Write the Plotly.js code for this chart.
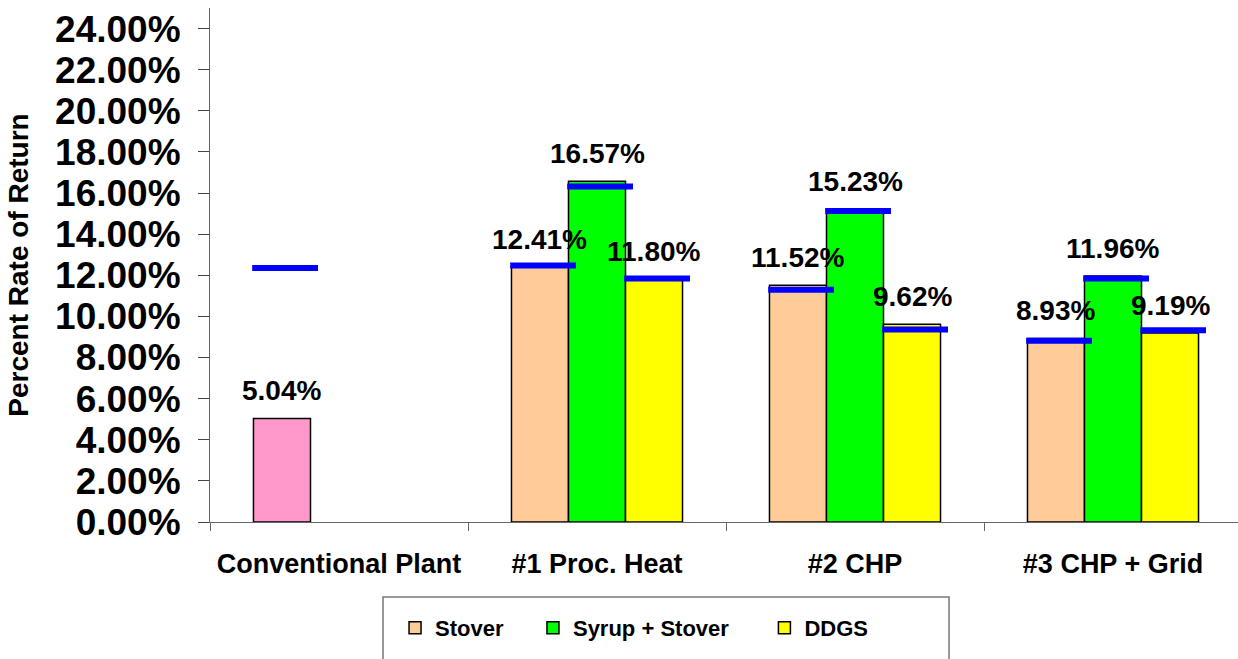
<!DOCTYPE html>
<html>
<head>
<meta charset="utf-8">
<script src="https://cdn.plot.ly/plotly-3.0.1.min.js"></script>
<style>html,body{margin:0;padding:0;background:#fff;}#chart{width:1238px;height:659px;}</style>
</head>
<body>
<div id="chart"></div>
<script>
// ---- data ----
const categories = ['Conventional Plant', '#1 Proc. Heat', '#2 CHP', '#3 CHP + Grid'];
const conventional = [5.04, null, null, null];
const stover = [null, 12.41, 11.52, 8.93];
const syrupStover = [null, 16.57, 15.23, 11.96];
const ddgs = [null, 11.80, 9.62, 9.19];
// blue horizontal markers
const blueStover = [12.35, 12.47, 11.30, 8.81];
const blueSyrup = [null, 16.32, 15.13, 11.84];
const blueDDGS = [null, 11.84, 9.36, 9.33];
const seriesNames = ['Stover', 'Syrup + Stover', 'DDGS'];

// ---- styling ----
const FONT = 'Liberation Sans, Arial, sans-serif';
const idx = categories.map((c, i) => i);
const W = 0.221;               // bar width in category units
const slotOffset = [-1.5 * W, -0.5 * W, 0.5 * W];   // left edge of each slot
const slotCenter = k => slotOffset[k] + W / 2;
const BLUE_SHIFT = 0.012;
const outline = {color: '#000', width: 1.5};
const legendPad = ['\u00a0\u00a0\u00a0\u00a0', '\u00a0\u00a0\u00a0\u00a0\u00a0', ''];

function barTrace(values, name, color, slot, showlegend) {
  return {
    type: 'bar', x: idx, y: values, name: name,
    width: W, offset: slotOffset[slot],
    marker: {color: color, line: outline},
    showlegend: showlegend, hoverinfo: 'y+name'
  };
}
function blueTrace(values, slot) {
  return {
    type: 'scatter', mode: 'markers',
    x: idx.map(i => i + slotCenter(slot) + BLUE_SHIFT), y: values,
    marker: {symbol: 'line-ew', size: 47, color: '#0000FF', line: {width: 6, color: '#0000FF'}},
    showlegend: false, hoverinfo: 'y', cliponaxis: false
  };
}

const traces = [
  barTrace(conventional, 'Conventional', '#FF99CC', 0, false),
  barTrace(stover, seriesNames[0] + legendPad[0], '#FFCC99', 0, true),
  barTrace(syrupStover, seriesNames[1] + legendPad[1], '#00FF00', 1, true),
  barTrace(ddgs, seriesNames[2] + legendPad[2], '#FFFF00', 2, true),
  blueTrace(blueStover, 0),
  blueTrace(blueSyrup, 1),
  blueTrace(blueDDGS, 2)
];

// data labels
const annotations = [];
[[conventional, 0], [stover, 0], [syrupStover, 1], [ddgs, 2]].forEach(([vals, slot]) => {
  vals.forEach((v, i) => {
    if (v === null) return;
    annotations.push({
      x: i + slotCenter(slot), y: v, xref: 'x', yref: 'y',
      text: v.toFixed(2) + '%', showarrow: false,
      yanchor: 'bottom', xanchor: 'center', yshift: 10,
      font: {family: FONT, size: 28, color: '#000', weight: 'bold'}
    });
  });
});

const layout = {
  width: 1238, height: 659,
  margin: {l: 210, r: 0, t: 8, b: 137, pad: 0},
  paper_bgcolor: '#fff', plot_bgcolor: '#fff',
  barmode: 'overlay',
  font: {family: FONT, color: '#000'},
  xaxis: {
    type: 'linear', range: [-0.5, 3.4845],
    tickmode: 'array', tickvals: idx, ticktext: categories,
    ticks: '', showgrid: false, zeroline: false,
    showline: true, linecolor: '#666', linewidth: 1,
    tickfont: {family: FONT, size: 27, color: '#000', weight: 'bold'},
    ticklabelstandoff: 18,
    minor: {tickmode: 'array', tickvals: [-0.5, 0.5, 1.5, 2.5], ticks: 'outside', ticklen: 8, tickcolor: '#666', tickwidth: 1, showgrid: false}
  },
  yaxis: {
    range: [0, 25], dtick: 2, tick0: 0,
    tickformat: '.2f', ticksuffix: '%',
    ticks: 'outside', ticklen: 11, tickcolor: '#444', tickwidth: 1,
    showgrid: false, zeroline: false,
    showline: true, linecolor: '#666', linewidth: 1,
    tickfont: {family: FONT, size: 37, color: '#000', weight: 'bold'},
    ticklabelstandoff: 10,
    title: {text: 'Percent Rate of Return', standoff: 18,
            font: {family: FONT, size: 28, color: '#000', weight: 'bold'}}
  },
  showlegend: true,
  legend: {
    orientation: 'h', x: 0.18, xanchor: 'left', y: -0.206, yanchor: 'middle',
    font: {family: FONT, size: 22, color: '#000', weight: 'bold'},
    bgcolor: 'rgba(0,0,0,0)', borderwidth: 0, traceorder: 'normal'
  },
  shapes: [{
    type: 'rect', xref: 'paper', yref: 'paper',
    x0: 0.1683, x1: 0.7189, y0: -0.146, y1: -0.30,
    line: {color: '#777', width: 1.5}, fillcolor: 'rgba(0,0,0,0)', layer: 'below'
  }],
  annotations: annotations
};

Plotly.newPlot('chart', traces, layout, {staticPlot: true, displayModeBar: false});
</script>
</body>
</html>
